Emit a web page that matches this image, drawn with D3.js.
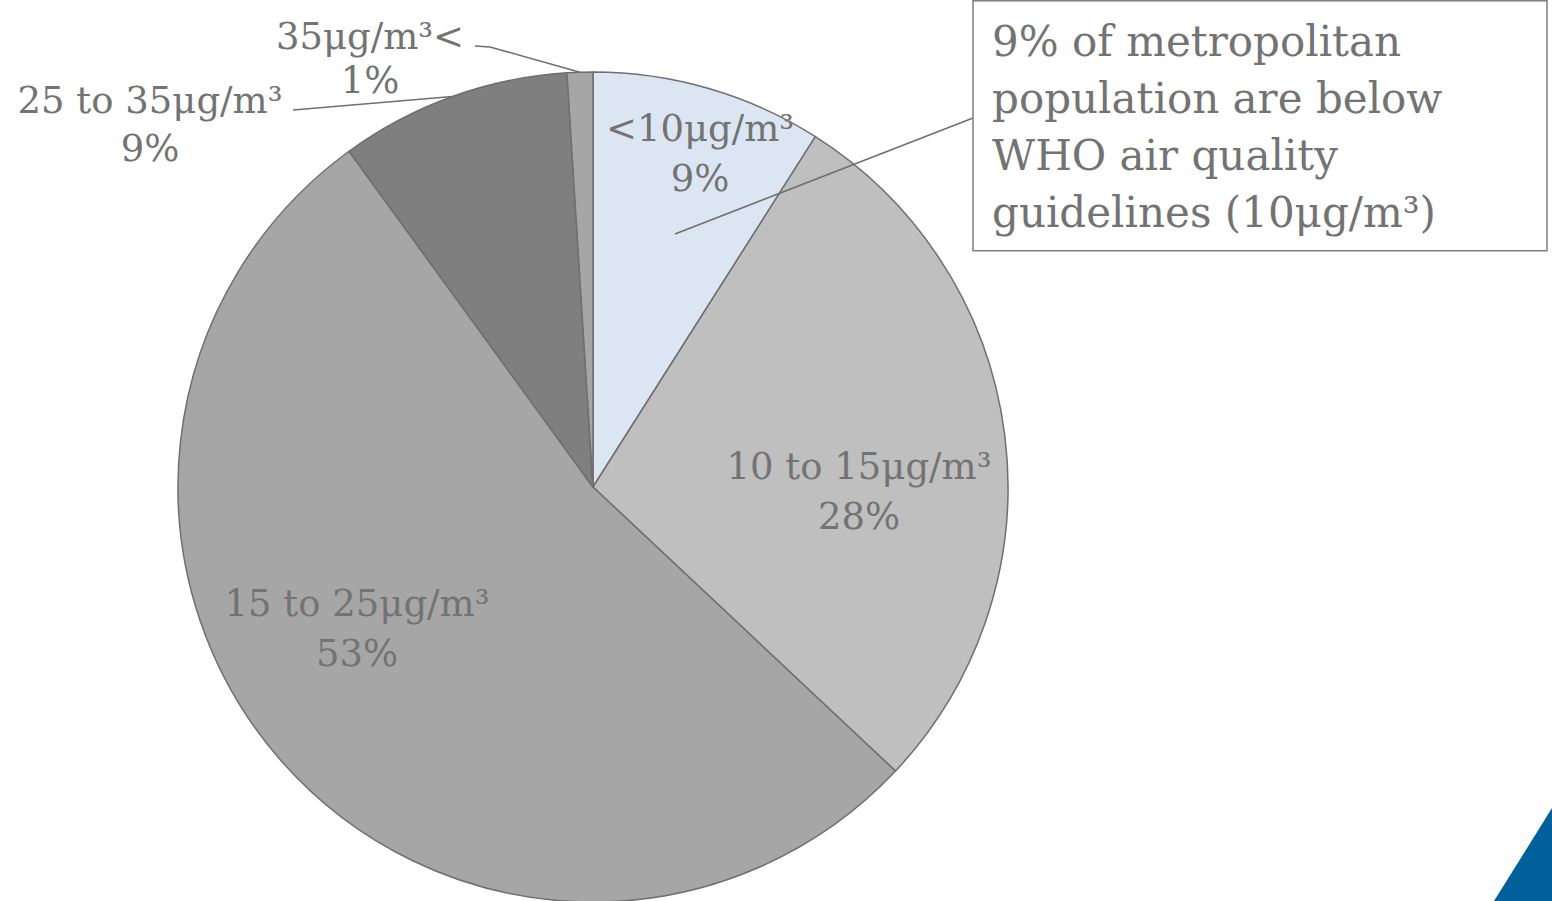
<!DOCTYPE html>
<html>
<head>
<meta charset="utf-8">
<script src="https://cdn.jsdelivr.net/npm/d3@7/dist/d3.min.js"></script>
<style>
  html, body { margin: 0; padding: 0; background: #ffffff; }
  svg { display: block; }
  text { font-family: "DejaVu Serif", "Liberation Serif", serif; fill: #737373; }
</style>
</head>
<body>
<svg id="chart" width="1552" height="901"></svg>
<script>
// PM2.5 exposure bands and share of metropolitan population (%)
const categories = ["<10μg/m³", "10 to 15μg/m³", "15 to 25μg/m³", "25 to 35μg/m³", "35μg/m³<"];
const shares = [9, 28, 53, 9, 1];
const sliceColors = ["#dce6f2", "#bfbfbf", "#a6a6a6", "#7f7f7f", "#a6a6a6"];
const calloutLines = [
  "9% of metropolitan",
  "population are below",
  "WHO air quality",
  "guidelines (10μg/m³)"
];

const svg = d3.select("#chart");
const cx = 593, cy = 487, R = 415;

const pie = d3.pie().sort(null).value(d => d.value);
const arcs = pie(categories.map((c, i) => ({ name: c, value: shares[i], color: sliceColors[i] })));
const arc = d3.arc().innerRadius(0).outerRadius(R);

const g = svg.append("g").attr("transform", `translate(${cx},${cy})`);
g.selectAll("path.slice")
  .data(arcs)
  .join("path")
  .attr("class", "slice")
  .attr("d", arc)
  .attr("fill", d => d.data.color)
  .attr("stroke", "#6f6f6f")
  .attr("stroke-width", 1.5)
  .attr("stroke-linejoin", "round");

const labelSize = 37;

// Two-line label: category name over its percentage
function label(x, y, d, gap) {
  const t = svg.append("text")
    .attr("text-anchor", "middle")
    .attr("font-size", labelSize)
    .attr("x", x).attr("y", y);
  t.append("tspan").attr("x", x).text(d.name);
  t.append("tspan").attr("x", x).attr("dy", gap).text(d.value + "%");
}

// Labels that sit inside their slice
label(700, 141, arcs[0].data, 50);
label(859, 479, arcs[1].data, 50);
label(357, 616, arcs[2].data, 50);

// Labels outside the pie, joined to the rim of their slice by a leader line
const outside = [
  { i: 3, x: 150, y: 113, gap: 48, lx0: 293, ly0: 110, lx1: 305, ly1: 109 },
  { i: 4, x: 370, y: 49, gap: 44, lx0: 475, ly0: 46, lx1: 490, ly1: 47 }
];
outside.forEach(p => {
  const a = arcs[p.i];
  const mid = (a.startAngle + a.endAngle) / 2;
  const ex = cx + Math.sin(mid) * R;
  const ey = cy - Math.cos(mid) * R;
  svg.append("polyline")
    .attr("points", [[p.lx0, p.ly0], [p.lx1, p.ly1], [ex, ey]].map(d => d.join(",")).join(" "))
    .attr("fill", "none")
    .attr("stroke", "#6f6f6f")
    .attr("stroke-width", 1.5);
  label(p.x, p.y, a.data, p.gap);
});

// Callout box pointing into the <10 slice
svg.append("line")
  .attr("x1", 675).attr("y1", 234)
  .attr("x2", 973).attr("y2", 118)
  .attr("stroke", "#6f6f6f").attr("stroke-width", 1.5);
svg.append("rect")
  .attr("x", 973).attr("y", 0.75)
  .attr("width", 574).attr("height", 250)
  .attr("fill", "#ffffff")
  .attr("stroke", "#7f7f7f").attr("stroke-width", 1.5);
const box = svg.append("text").attr("font-size", 42);
calloutLines.forEach((s, k) => {
  box.append("tspan").attr("x", 992).attr("y", 56 + k * 57).text(s);
});

// Corner accent
svg.append("path")
  .attr("d", "M1552,808 L1494,901 L1552,901 Z")
  .attr("fill", "#00609c");
</script>
</body>
</html>
